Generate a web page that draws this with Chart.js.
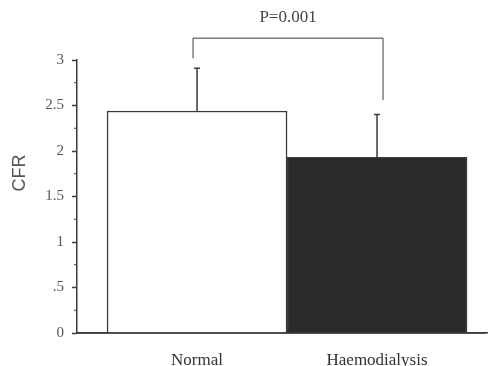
<!DOCTYPE html>
<html>
<head>
<meta charset="utf-8">
<script src="https://cdn.jsdelivr.net/npm/chart.js@4"></script>
<style>
  html, body { margin: 0; padding: 0; background: #fff; }
  #wrap { width: 488px; height: 366px; position: relative; }
</style>
</head>
<body>
<div id="wrap"><canvas id="c"></canvas></div>
<script>
// данные
const groups = ['Normal', 'Haemodialysis'];
const means = [2.44, 1.93];
const errUpper = [2.91, 2.40];
const barColors = ['#ffffff', '#2a2a2a'];
const yTickLabels = { 0: '0', 0.5: '.5', 1: '1', 1.5: '1.5', 2: '2', 2.5: '2.5', 3: '3' };
const pLabel = 'P=0.001';
// скобка над столбцами: уровень верха и нижние концы ножек
const bracketTop = 3.24;
const bracketLegs = [3.02, 2.56];

const ink = '#3a3a3a';

// плагин: планки погрешностей, скобка, подпись P, мелкие деления и подпись оси
const extras = {
  id: 'extras',
  afterDatasetsDraw(chart) {
    const { ctx, scales: { x, y } } = chart;
    ctx.save();
    ctx.strokeStyle = ink;
    ctx.lineWidth = 1.5;

    // планки погрешностей
    means.forEach((m, i) => {
      const px = x.getPixelForValue(i + 1);
      const top = y.getPixelForValue(errUpper[i]);
      ctx.beginPath();
      ctx.moveTo(px, y.getPixelForValue(m));
      ctx.lineTo(px, top);
      ctx.moveTo(px - 3, top);
      ctx.lineTo(px + 3, top);
      ctx.stroke();
    });

    // скобка
    const xl = x.getPixelForValue(1) - 4;
    const xr = x.getPixelForValue(2) + 6;
    const yt = y.getPixelForValue(bracketTop);
    ctx.lineWidth = 1;
    ctx.beginPath();
    ctx.moveTo(xl, y.getPixelForValue(bracketLegs[0]));
    ctx.lineTo(xl, yt);
    ctx.lineTo(xr, yt);
    ctx.lineTo(xr, y.getPixelForValue(bracketLegs[1]));
    ctx.stroke();

    ctx.fillStyle = '#444';
    ctx.font = '17px "Liberation Serif", serif';
    ctx.textAlign = 'center';
    ctx.textBaseline = 'middle';
    ctx.fillText(pLabel, (xl + xr) / 2, 18);

    // мелкие деления по оси Y
    ctx.lineWidth = 1;
    for (let v = 0.25; v < 3; v += 0.5) {
      const py = y.getPixelForValue(v);
      ctx.beginPath();
      ctx.moveTo(y.right - 3, py);
      ctx.lineTo(y.right, py);
      ctx.stroke();
    }

    // продолжение оси X вправо
    ctx.lineWidth = 1.5;
    ctx.beginPath();
    ctx.moveTo(x.left, y.bottom);
    ctx.lineTo(486, y.bottom);
    ctx.stroke();

    // подпись оси Y
    ctx.fillStyle = '#555';
    ctx.font = '18px "Liberation Sans", sans-serif';
    ctx.translate(20, 173);
    ctx.rotate(-Math.PI / 2);
    ctx.fillText('CFR', 0, 0);
    ctx.restore();
  },
};

const chart = new Chart(document.getElementById('c'), {
  type: 'bar',
  data: {
    datasets: [{
      data: means.map((v, i) => ({ x: i + 1, y: v })),
      backgroundColor: barColors,
      borderColor: ink,
      borderWidth: 1.5,
      borderSkipped: 'bottom',
      barThickness: 180,
    }],
  },
  options: {
    responsive: true,
    maintainAspectRatio: false,
    animation: false,
    layout: { padding: { top: 60, right: 1, left: 0, bottom: 0 } },
    plugins: { legend: { display: false }, tooltip: { enabled: false } },
    scales: {
      x: {
        type: 'linear',
        offset: false,
        min: 0.333,
        max: 2.611,
        afterBuildTicks: (scale) => { scale.ticks = groups.map((g, i) => ({ value: i + 1 })); },
        afterFit: (scale) => { scale.height = 33; },
        grid: { display: false, drawTicks: false, offset: false },
        border: { display: true, color: ink, width: 1.5 },
        ticks: {
          callback: (v) => groups[v - 1],
          color: '#333',
          font: { family: '"Liberation Serif", serif', size: 17 },
          padding: 17,
          maxRotation: 0,
          autoSkip: false,
        },
      },
      y: {
        min: 0,
        max: 3,
        afterFit: (scale) => { scale.width = 77; },
        afterBuildTicks: (scale) => {
          scale.ticks = Object.keys(yTickLabels).map((k) => ({ value: Number(k) }));
        },
        grid: { drawOnChartArea: false, tickLength: 5, tickColor: ink, tickWidth: 1.5 },
        border: { display: true, color: ink, width: 1.5 },
        ticks: {
          callback: (v) => yTickLabels[v],
          color: '#555',
          font: { family: '"Liberation Serif", serif', size: 15 },
          padding: 8,
        },
      },
    },
  },
  plugins: [extras],
});
</script>
</body>
</html>
